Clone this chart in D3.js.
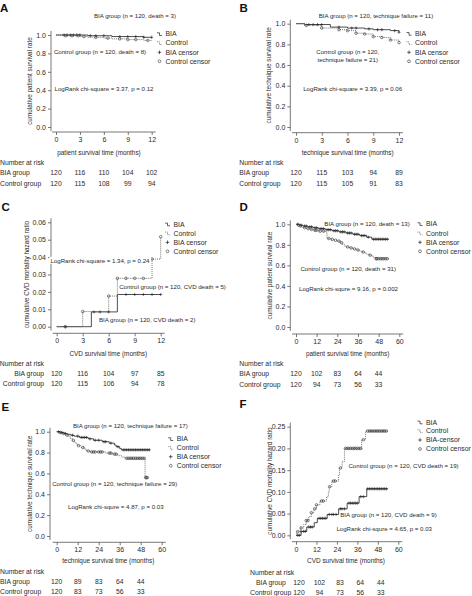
<!DOCTYPE html>
<html><head><meta charset="utf-8">
<script src="https://cdn.jsdelivr.net/npm/d3@7"></script>
<style>body{margin:0;background:#fff}svg{display:block}</style>
</head><body><svg id="c" width="472" height="596"></svg>
<script>
// ---------------- DATA ----------------
const legendLabels = ["BIA", "Control", "BIA censor", "Control censor"];
const legendLabelsF = ["BIA", "Control", "BIA-censor", "Control censor"];
const riskLabels = ["Number at risk", "BIA group", "Control group"];

// Panel A – patient survival (12 months)
const aTicksX = [0, 3, 6, 9, 12];
const aTicksY = [0, 0.2, 0.4, 0.6, 0.8, 1.0];
const aBiaT = [0, 4, 7, 11];
const aBiaS = [1, 0.992, 0.983, 0.975];
const aCtlT = [0, 1, 3, 4, 6, 7, 9, 11, 12];
const aCtlS = [1, 0.992, 0.983, 0.975, 0.966, 0.958, 0.95, 0.941, 0.932];
const aBiaCens = [1, 1.4, 1.8, 2.2, 2.6, 3, 4.3, 5, 6, 8, 9, 10, 11, 12];
const aCtlCens = [1.2, 2, 2.8, 3.5, 5, 6.5, 8, 9, 10, 11.5];
const aRiskBia = [120, 116, 110, 104, 102];
const aRiskCtl = [120, 115, 108, 99, 94];

// Panel B – technique survival (12 months)
const bTicksX = [0, 3, 6, 9, 12];
const bTicksY = [0, 0.2, 0.4, 0.6, 0.8, 1.0];
const bBiaT = [0, 1, 4, 6, 8, 9, 11, 12];
const bBiaS = [1, 0.992, 0.967, 0.958, 0.95, 0.942, 0.933, 0.917];
const bCtlT = [0, 1, 3, 5, 6, 7, 8, 9, 10, 11, 12];
const bCtlS = [1, 0.983, 0.958, 0.942, 0.933, 0.908, 0.9, 0.875, 0.867, 0.842, 0.817];
const bBiaCens = [1.5, 2, 2.5, 3, 5, 6.5, 7, 8.5, 9.5, 10, 11.5, 12];
const bCtlCens = [1.2, 3, 5, 6, 7, 8, 9, 10, 11, 12];
const bRiskBia = [120, 115, 103, 94, 89];
const bRiskCtl = [120, 115, 105, 91, 83];

// Panel C – CVD cumulative hazard (12 months)
const cTicksX = [0, 3, 6, 9, 12];
const cTicksY = [0, 0.01, 0.02, 0.03, 0.04, 0.05, 0.06];
const cBiaT = [0, 4, 7];
const cBiaS = [0, 0.0085, 0.0185];
const cCtlT = [0, 3, 6, 7, 11, 12];
const cCtlS = [0, 0.0087, 0.0176, 0.0278, 0.0389, 0.0517];
const cBiaCens = [1, 4.3, 5, 6, 8, 9, 10, 11, 12];
const cCtlCens = [1, 3, 6, 7, 8, 9, 10, 11, 12];
const cRiskBia = [120, 116, 104, 97, 85];
const cRiskCtl = [120, 115, 106, 94, 78];

// Panel D – patient survival (60 months)
const dTicksX = [0, 12, 24, 36, 48, 60];
const dTicksY = [0, 0.2, 0.4, 0.6, 0.8, 1.0];
const dBiaT = [0, 2, 4, 7, 10, 13, 17, 21, 25, 29, 33, 37, 41, 44];
const dBiaS = [1, 0.992, 0.983, 0.975, 0.966, 0.957, 0.947, 0.937, 0.926, 0.915, 0.903, 0.89, 0.875, 0.855];
const dCtlT = [0, 1, 2, 3, 4, 6, 8, 10, 13, 17, 18, 20, 22, 24, 26, 27, 28, 29, 31, 33, 35, 37, 38, 40, 41, 42, 44, 45, 46];
const dCtlS = [1, 0.992, 0.983, 0.975, 0.967, 0.958, 0.95, 0.942, 0.933, 0.925, 0.862, 0.853, 0.845, 0.836, 0.82, 0.805, 0.79, 0.78, 0.77, 0.76, 0.75, 0.74, 0.73, 0.72, 0.71, 0.70, 0.69, 0.68, 0.665];
const dBiaCens = [1, 3, 5, 6, 8, 9, 11, 12, 14, 15, 16, 18, 19, 20, 22, 23, 24, 26, 27, 28, 30, 31, 32, 34, 35, 36, 38, 39, 40, 42, 45, 46, 47, 48, 49, 50, 51, 52, 53];
const dCtlCens = [1.5, 2.5, 5, 7, 9, 11, 12, 14, 16, 19, 21, 23, 25, 26.5, 30, 32, 34, 36, 39, 43, 46.5, 47, 48, 49, 50, 51, 52, 53];
const dRiskBia = [120, 102, 83, 64, 44];
const dRiskCtl = [120, 94, 73, 56, 33];

// Panel E – technique survival (60 months)
const eTicksX = [0, 12, 24, 36, 48, 60];
const eTicksY = [0, 0.2, 0.4, 0.6, 0.8, 1.0];
const eBiaT = [0, 2, 4, 6, 8, 10, 13, 18, 21, 26, 30, 33, 34, 36, 37];
const eBiaS = [1, 0.992, 0.983, 0.975, 0.966, 0.957, 0.945, 0.932, 0.918, 0.904, 0.89, 0.872, 0.856, 0.838, 0.826];
const eCtlT = [0, 1, 3, 5, 7, 8, 9, 10, 11, 12, 14, 16, 17, 19, 28, 32, 35, 37, 39, 50.5];
const eCtlS = [1, 0.992, 0.983, 0.967, 0.95, 0.933, 0.917, 0.9, 0.883, 0.866, 0.848, 0.832, 0.815, 0.806, 0.795, 0.785, 0.77, 0.758, 0.745, 0.56];
const eBiaCens = [1, 2.5, 3, 5, 9, 12, 14, 15, 16, 17, 19, 22, 24, 27, 28, 31, 35, 38, 39, 40, 41, 42, 43, 44, 45, 46, 47, 48, 49, 50, 51, 52, 53];
const eCtlCens = [2, 4, 6, 9.5, 12.5, 15, 18, 20, 21, 22, 24, 25, 26, 30, 31, 33, 34, 40, 41, 42, 43, 44, 45, 46, 47, 48, 49, 50, 50.8, 51.3, 51.8];
const eRiskBia = [120, 89, 83, 64, 44];
const eRiskCtl = [120, 83, 73, 56, 33];

// Panel F – CVD cumulative hazard (60 months)
const fTicksX = [0, 12, 24, 36, 48, 60];
const fTicksY = [0, 0.05, 0.10, 0.15, 0.20, 0.25];
const fBiaT = [0, 3, 6.3, 10.7, 12.5, 18.3, 25, 30, 37, 41.5];
const fBiaS = [0, 0.009, 0.019, 0.029, 0.039, 0.048, 0.061, 0.074, 0.089, 0.107];
const fCtlT = [0, 0.5, 2.5, 4.5, 6, 7.5, 9, 10.5, 12, 14, 18, 19, 19.5, 21, 25, 25.5, 27, 28.4, 38.5, 40.8];
const fCtlS = [0, 0.0083, 0.017, 0.025, 0.034, 0.043, 0.052, 0.061, 0.07, 0.079, 0.089, 0.1, 0.112, 0.125, 0.14, 0.155, 0.17, 0.2, 0.22, 0.24];
const fBiaCens = [1, 2, 3, 4.5, 5.5, 7.5, 8.5, 9.5, 13.5, 14.5, 15.5, 16.5, 17.5, 19.5, 21, 22, 23.5, 26, 27, 28.5, 31, 32, 33, 34, 35, 36, 38, 39.5, 42, 43, 44, 45, 46, 47, 48, 49, 50, 51, 52, 53];
const fCtlCens = [1, 3, 6, 7, 9, 11, 12, 15, 16, 19.7, 22, 23, 26, 29, 30, 31, 32, 33, 34, 35, 36, 37, 38, 39.5, 42, 43, 44, 45, 46, 47, 48, 49, 50, 51, 52, 53];
const fRiskBia = [120, 102, 83, 64, 44];
const fRiskCtl = [120, 94, 73, 56, 33];

// ---------------- DRAWING ----------------
const FONT = "'Liberation Sans', Arial, Helvetica, sans-serif";
const INK = "#2a2a2a";
const svg = d3.select("#c");
svg.append("rect").attr("width", 472).attr("height", 596).attr("fill", "#fff");

function stepAt(times, vals, t) {
  const i = d3.bisectRight(times, t) - 1;
  return vals[Math.max(0, i)];
}

function drawPanel(p) {
  const g = svg.append("g");
  const x = d3.scaleLinear().domain([p.xTicks[0], p.xTicks[p.xTicks.length - 1]]).range(p.xPx);
  const y = d3.scaleLinear().domain([p.yTicks[0], p.yTicks[p.yTicks.length - 1]]).range(p.yPx);
  const PAD = 4;

  g.append("text").attr("x", p.letter[1]).attr("y", p.letter[2]).text(p.letter[0])
    .attr("font-family", FONT).attr("font-weight", "bold").attr("font-size", 11.5).attr("fill", "#111");

  const xa = g.append("g").attr("transform", `translate(0,${p.xAxisY})`)
    .call(d3.axisBottom(x).tickValues(p.xTicks).tickSize(3).tickPadding(2).tickFormat(d3.format("d")));
  xa.select(".domain").remove();
  xa.append("line").attr("x1", p.xPx[0] - PAD).attr("x2", p.xPx[1] + PAD).attr("stroke", "#555").attr("stroke-width", 0.8);
  const ya = g.append("g").attr("transform", `translate(${p.yAxisX},0)`)
    .call(d3.axisLeft(y).tickValues(p.yTicks).tickSize(3).tickPadding(2).tickFormat(d3.format(p.yFmt)));
  ya.select(".domain").remove();
  ya.append("line").attr("y1", p.yPx[0] + PAD).attr("y2", p.yPx[1] - PAD).attr("stroke", "#555").attr("stroke-width", 0.8);
  [xa, ya].forEach(a => {
    a.selectAll(".tick line").attr("stroke", "#555").attr("stroke-width", 0.8);
    a.selectAll("text").attr("font-family", FONT).attr("font-size", 7).attr("fill", INK);
  });

  g.append("text").attr("x", p.xTitle[1]).attr("y", p.xTitle[2]).attr("dy", "0.35em")
    .attr("text-anchor", "middle").text(p.xTitle[0])
    .attr("font-family", FONT).attr("font-size", 6.4).attr("fill", INK);
  g.append("text").attr("transform", `translate(${p.yTitle[1]},${p.yTitle[2]}) rotate(-90)`).attr("dy", "0.35em")
    .attr("text-anchor", "middle").text(p.yTitle[0])
    .attr("font-family", FONT).attr("font-size", 6.4).attr("fill", INK);

  const line = d3.line().x(d => x(d[0])).y(d => y(d[1])).curve(d3.curveStepAfter);
  p.curves.forEach(c => {
    const pts = c.t.map((t, i) => [t, c.s[i]]);
    pts.push([c.end, c.s[c.s.length - 1]]);
    g.append("path").datum(pts).attr("d", line).attr("fill", "none")
      .attr("stroke", c.ctl ? "#555" : "#222").attr("stroke-width", 0.8)
      .attr("stroke-dasharray", c.ctl ? "1,1" : null);
    const cg = g.append("g");
    c.cens.forEach(t => {
      const cx = x(t), cy = y(stepAt(c.t, c.s, t));
      if (c.ctl) {
        cg.append("circle").attr("cx", cx).attr("cy", cy).attr("r", 1.3)
          .attr("fill", "none").attr("stroke", "#333").attr("stroke-width", 0.6);
      } else {
        cg.append("path").attr("d", `M${cx - 1.5},${cy}H${cx + 1.5}M${cx},${cy - 1.6}V${cy + 1.6}`)
          .attr("stroke", "#222").attr("stroke-width", 0.6);
      }
    });
  });

  p.notes.forEach(n => {
    const t = g.append("text").attr("x", n[1]).attr("y", n[2]).attr("dy", "0.35em")
      .attr("text-anchor", "middle").text(n[0])
      .attr("font-family", FONT).attr("font-size", 6.1).attr("fill", INK);
    if (n[3]) {
      const b = t.node().getBBox();
      g.insert("rect", () => t.node()).attr("x", b.x - 1).attr("y", b.y).attr("width", b.width + 2).attr("height", b.height).attr("fill", "#fff");
    }
  });

  const lg = g.append("g");
  p.legend.labels.forEach((lab, i) => {
    const ly = p.legend.ys[i], sx = p.legend.tx - 6;
    lg.append("text").attr("x", p.legend.tx).attr("y", ly).attr("dy", "0.35em").text(lab)
      .attr("font-family", FONT).attr("font-size", 6.9).attr("fill", INK);
    if (i < 2) {
      lg.append("path").attr("d", `M${sx - 2.5},${ly - 1.2}H${sx}V${ly + 1.5}H${sx + 2.5}`)
        .attr("fill", "none").attr("stroke", i === 0 ? "#222" : "#555").attr("stroke-width", 0.7)
        .attr("stroke-dasharray", i === 1 ? "1,0.8" : null);
    } else if (i === 2) {
      lg.append("path").attr("d", `M${sx - 1.8},${ly}H${sx + 1.8}M${sx},${ly - 1.8}V${ly + 1.8}`)
        .attr("stroke", "#222").attr("stroke-width", 0.7);
    } else {
      lg.append("circle").attr("cx", sx).attr("cy", ly).attr("r", 1.4)
        .attr("fill", "none").attr("stroke", "#333").attr("stroke-width", 0.6);
    }
  });

  const rg = g.append("g").attr("font-family", FONT).attr("font-size", 6.8).attr("fill", INK);
  riskLabels.forEach((lab, i) => {
    rg.append("text").attr("x", p.risk.lx[i]).attr("y", p.risk.ys[i]).attr("dy", "0.35em")
      .attr("text-anchor", p.risk.anchor).text(lab);
  });
  [p.risk.bia, p.risk.ctl].forEach((row, r) => {
    row.forEach((v, i) => {
      rg.append("text").attr("x", x(p.xTicks[i]) + p.risk.dx).attr("y", p.risk.ys[r + 1]).attr("dy", "0.35em")
        .attr("text-anchor", "middle").text(v);
    });
  });
}

drawPanel({
  letter: ["A", 0, 12], xTicks: aTicksX, yTicks: aTicksY, yFmt: ".1f",
  xPx: [56, 151.7], yPx: [127, 35], yAxisX: 51, xAxisY: 132,
  xTitle: ["patient survival time (months)", 99, 152.7],
  yTitle: ["cumulative patient survival rate", 30, 81],
  curves: [
    { t: aBiaT, s: aBiaS, end: 12, cens: aBiaCens, ctl: false },
    { t: aCtlT, s: aCtlS, end: 12, cens: aCtlCens, ctl: true }],
  notes: [["BIA group (n = 120, death = 3)", 135, 16], ["Control group (n = 120, death = 8)", 100, 51.7],
          ["LogRank chi-square = 3.37, p = 0.12", 104, 89]],
  legend: { labels: legendLabels, tx: 165.5, ys: [34, 43, 52.3, 61.3] },
  risk: { lx: [0, 0, 0], ys: [162.3, 173, 183.3], anchor: "start", dx: 0, bia: aRiskBia, ctl: aRiskCtl }
});

drawPanel({
  letter: ["B", 239.5, 12], xTicks: bTicksX, yTicks: bTicksY, yFmt: ".1f",
  xPx: [296, 399], yPx: [127, 23.7], yAxisX: 290.3, xAxisY: 132.7,
  xTitle: ["technique survival time (months)", 347.7, 152.7],
  yTitle: ["cumulative technique survival rate", 268.3, 75.4],
  curves: [
    { t: bBiaT, s: bBiaS, end: 12, cens: bBiaCens, ctl: false },
    { t: bCtlT, s: bCtlS, end: 12, cens: bCtlCens, ctl: true }],
  notes: [["BIA group (n = 120, technique failure = 11)", 376, 15.7], ["Control group (n = 120,", 347.7, 52.3],
          ["technique failure = 21)", 347.7, 60], ["LogRank chi-square = 3.39, p = 0.06", 352.7, 89.3]],
  legend: { labels: legendLabels, tx: 415, ys: [33.7, 43, 52.3, 61.3] },
  risk: { lx: [239.3, 239.3, 239.3], ys: [162.3, 173, 183.5], anchor: "start", dx: 0, bia: bRiskBia, ctl: bRiskCtl }
});

drawPanel({
  letter: ["C", 1.5, 210.5], xTicks: cTicksX, yTicks: cTicksY, yFmt: ".2f",
  xPx: [56.7, 160.7], yPx: [326.7, 222.3], yAxisX: 51, xAxisY: 333.3,
  xTitle: ["CVD survival time (months)", 108.3, 353.3],
  yTitle: ["cumulative CVD mortality hazard ratio", 26.7, 274.5],
  curves: [
    { t: cBiaT, s: cBiaS, end: 12, cens: cBiaCens, ctl: false },
    { t: cCtlT, s: cCtlS, end: 12, cens: cCtlCens, ctl: true }],
  notes: [["LogRank chi-square = 1.34, p = 0.24", 100, 260.7, true], ["Control group (n = 120, CVD death = 5)", 172.5, 286.7],
          ["BIA group (n = 120, CVD death = 2)", 147.2, 320]],
  legend: { labels: legendLabels, tx: 173.5, ys: [224.3, 233.3, 242.3, 251.3] },
  risk: { lx: [44, 44, 44], ys: [364, 374, 384], anchor: "end", dx: 0, bia: cRiskBia, ctl: cRiskCtl }
});

drawPanel({
  letter: ["D", 239.5, 210.5], xTicks: dTicksX, yTicks: dTicksY, yFmt: ".1f",
  xPx: [296, 399.3], yPx: [327, 224.3], yAxisX: 290.3, xAxisY: 334,
  xTitle: ["patient survival time (months)", 347.7, 354],
  yTitle: ["cumulative patient survival rate", 269.3, 275.6],
  curves: [
    { t: dBiaT, s: dBiaS, end: 54, cens: dBiaCens, ctl: false },
    { t: dCtlT, s: dCtlS, end: 54, cens: dCtlCens, ctl: true }],
  notes: [["BIA group (n = 120, death = 13)", 367, 224], ["Control group (n = 120, death = 31)", 348.2, 269.3],
          ["LogRank chi-squre = 9.16, p = 0.002", 348.5, 288.7]],
  legend: { labels: legendLabels, tx: 426, ys: [224, 233.3, 242.3, 251.3] },
  risk: { lx: [239.3, 239.3, 239.3], ys: [364, 374, 384.5], anchor: "start", dx: 0, bia: dRiskBia, ctl: dRiskCtl }
});

drawPanel({
  letter: ["E", 1.5, 410.5], xTicks: eTicksX, yTicks: eTicksY, yFmt: ".1f",
  xPx: [56.7, 161.7], yPx: [536, 431.7], yAxisX: 50, xAxisY: 542.3,
  xTitle: ["technique survival time (months)", 108.3, 561],
  yTitle: ["cumulative technique survival rate", 30, 483.8],
  curves: [
    { t: eBiaT, s: eBiaS, end: 53, cens: eBiaCens, ctl: false },
    { t: eCtlT, s: eCtlS, end: 51.8, cens: eCtlCens, ctl: true }],
  notes: [["BIA group (n = 120, technique failure = 17)", 130.3, 425.7], ["Control group (n = 120, technique failure = 29)", 114.7, 484.3],
          ["LogRank chi-squre = 4.87, p = 0.03", 115.8, 507]],
  legend: { labels: legendLabels, tx: 176.7, ys: [439, 447.8, 456.7, 465.7] },
  risk: { lx: [0, 0, 0], ys: [571.7, 582, 592], anchor: "start", dx: 0, bia: eRiskBia, ctl: eRiskCtl }
});

drawPanel({
  letter: ["F", 239.5, 408], xTicks: fTicksX, yTicks: fTicksY, yFmt: ".2f",
  xPx: [296, 398.3], yPx: [535.3, 426.7], yAxisX: 290.3, xAxisY: 541.7,
  xTitle: ["CVD survival time (months)", 346, 561],
  yTitle: ["cumulative CVD mortality hazard ratio", 269.3, 481],
  curves: [
    { t: fBiaT, s: fBiaS, end: 54, cens: fBiaCens, ctl: false },
    { t: fCtlT, s: fCtlS, end: 54, cens: fCtlCens, ctl: true }],
  notes: [["Control group (n = 120, CVD death = 19)", 403.5, 466], ["BIA group (n = 120, CVD death = 9)", 388.5, 515],
          ["LogRank chi-squre = 4.65, p = 0.03", 384.2, 529.3]],
  legend: { labels: legendLabelsF, tx: 426, ys: [422.3, 431, 440, 449] },
  risk: { lx: [250, 256, 250], ys: [572.7, 582.3, 592.3], anchor: "start", dx: 3, bia: fRiskBia, ctl: fRiskCtl }
});
</script></body></html>
